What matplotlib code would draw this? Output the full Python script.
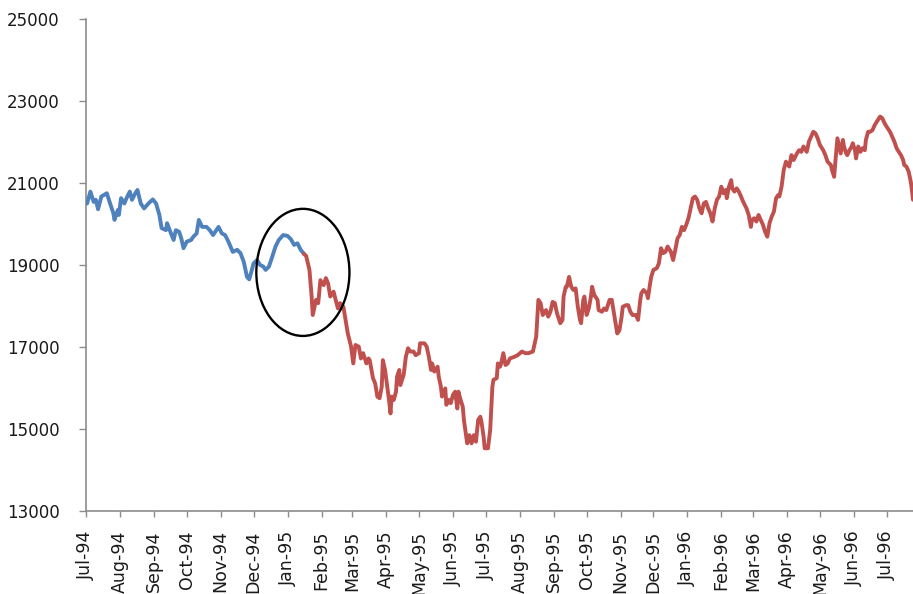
import matplotlib
matplotlib.use("Agg")
import matplotlib.pyplot as plt
import matplotlib.dates as mdates
from matplotlib.patches import Ellipse
import numpy as np
import pandas as pd

# ---- data (Nikkei-style index) ----
dates = [
    "1994-07-02", "1994-07-05", "1994-07-08", "1994-07-10", "1994-07-12", "1994-07-15", "1994-07-20", "1994-07-23",
    "1994-07-26", "1994-07-27", "1994-07-30", "1994-07-31", "1994-08-02", "1994-08-05", "1994-08-07", "1994-08-10",
    "1994-08-12", "1994-08-15", "1994-08-17", "1994-08-20", "1994-08-23", "1994-08-27", "1994-08-31", "1994-09-03",
    "1994-09-06", "1994-09-08", "1994-09-12", "1994-09-13", "1994-09-16", "1994-09-19", "1994-09-21", "1994-09-24",
    "1994-09-26", "1994-09-28", "1994-10-01", "1994-10-05", "1994-10-07", "1994-10-10", "1994-10-12", "1994-10-15",
    "1994-10-19", "1994-10-22", "1994-10-25", "1994-10-28", "1994-10-30", "1994-11-02", "1994-11-05", "1994-11-08",
    "1994-11-12", "1994-11-16", "1994-11-19", "1994-11-22", "1994-11-25", "1994-11-27", "1994-11-29", "1994-12-01",
    "1994-12-04", "1994-12-07", "1994-12-10", "1994-12-12", "1994-12-15", "1994-12-18", "1994-12-21", "1994-12-24",
    "1994-12-28", "1995-01-01", "1995-01-04", "1995-01-07", "1995-01-10", "1995-01-13", "1995-01-16",
    "1995-01-18", "1995-01-21", "1995-01-23", "1995-01-24", "1995-01-27", "1995-01-29", "1995-01-31", "1995-02-03",
    "1995-02-05", "1995-02-07", "1995-02-09", "1995-02-12", "1995-02-14", "1995-02-16", "1995-02-18", "1995-02-21",
    "1995-02-23", "1995-02-25", "1995-02-28", "1995-03-02", "1995-03-04", "1995-03-07", "1995-03-09", "1995-03-11",
    "1995-03-14", "1995-03-16", "1995-03-17", "1995-03-20", "1995-03-22", "1995-03-24", "1995-03-26", "1995-03-28",
    "1995-03-29", "1995-03-31", "1995-04-02", "1995-04-04", "1995-04-05", "1995-04-06", "1995-04-08", "1995-04-10",
    "1995-04-11", "1995-04-13", "1995-04-14", "1995-04-16", "1995-04-17", "1995-04-19", "1995-04-21", "1995-04-23",
    "1995-04-26", "1995-04-28", "1995-05-01", "1995-05-02", "1995-05-06", "1995-05-08", "1995-05-10", "1995-05-12",
    "1995-05-13", "1995-05-15", "1995-05-18", "1995-05-19", "1995-05-21", "1995-05-22", "1995-05-25", "1995-05-26",
    "1995-05-28", "1995-05-30", "1995-06-01", "1995-06-03", "1995-06-05", "1995-06-06", "1995-06-08", "1995-06-10",
    "1995-06-11", "1995-06-13", "1995-06-14", "1995-06-16", "1995-06-18", "1995-06-20", "1995-06-22", "1995-06-24",
    "1995-06-26", "1995-06-27", "1995-06-29", "1995-06-30", "1995-07-03", "1995-07-05", "1995-07-07", "1995-07-08",
    "1995-07-11", "1995-07-12", "1995-07-14", "1995-07-15", "1995-07-17", "1995-07-19", "1995-07-21", "1995-07-23",
    "1995-07-27", "1995-07-30", "1995-08-03", "1995-08-06", "1995-08-09", "1995-08-13", "1995-08-16", "1995-08-18",
    "1995-08-20", "1995-08-22", "1995-08-25", "1995-08-27", "1995-08-29", "1995-08-31", "1995-09-02", "1995-09-04",
    "1995-09-07", "1995-09-09", "1995-09-10", "1995-09-12", "1995-09-13", "1995-09-15", "1995-09-17", "1995-09-19",
    "1995-09-21", "1995-09-23", "1995-09-25", "1995-09-26", "1995-09-28", "1995-09-29", "1995-10-01", "1995-10-03",
    "1995-10-05", "1995-10-06", "1995-10-08", "1995-10-11", "1995-10-12", "1995-10-15", "1995-10-17", "1995-10-19",
    "1995-10-22", "1995-10-24", "1995-10-26", "1995-10-28", "1995-10-29", "1995-10-31", "1995-11-02", "1995-11-03",
    "1995-11-06", "1995-11-08", "1995-11-10", "1995-11-12", "1995-11-15", "1995-11-17", "1995-11-19", "1995-11-20",
    "1995-11-22", "1995-11-25", "1995-11-26", "1995-11-28", "1995-11-29", "1995-12-01", "1995-12-04", "1995-12-06",
    "1995-12-08", "1995-12-10", "1995-12-12", "1995-12-14", "1995-12-17", "1995-12-19", "1995-12-21", "1995-12-23",
    "1995-12-25", "1995-12-27", "1995-12-29", "1995-12-31", "1996-01-02", "1996-01-04", "1996-01-06", "1996-01-08",
    "1996-01-10", "1996-01-12", "1996-01-14", "1996-01-16", "1996-01-18", "1996-01-20", "1996-01-22", "1996-01-24",
    "1996-01-26", "1996-01-28", "1996-01-30", "1996-02-01", "1996-02-03", "1996-02-05", "1996-02-06", "1996-02-08",
    "1996-02-10", "1996-02-11", "1996-02-13", "1996-02-15", "1996-02-17", "1996-02-19", "1996-02-21", "1996-02-24",
    "1996-02-26", "1996-02-28", "1996-02-29", "1996-03-02", "1996-03-04", "1996-03-06", "1996-03-08", "1996-03-10",
    "1996-03-12", "1996-03-14", "1996-03-16", "1996-03-18", "1996-03-20", "1996-03-22", "1996-03-24", "1996-03-25",
    "1996-03-27", "1996-03-29", "1996-03-31", "1996-04-03", "1996-04-05", "1996-04-07", "1996-04-10", "1996-04-12",
    "1996-04-14", "1996-04-16", "1996-04-19", "1996-04-21", "1996-04-23", "1996-04-25", "1996-04-27", "1996-04-29",
    "1996-05-01", "1996-05-04", "1996-05-06", "1996-05-08", "1996-05-11", "1996-05-12", "1996-05-14", "1996-05-15",
    "1996-05-17", "1996-05-18", "1996-05-20", "1996-05-22", "1996-05-23", "1996-05-25", "1996-05-26", "1996-05-28",
    "1996-05-30", "1996-05-31", "1996-06-02", "1996-06-03", "1996-06-05", "1996-06-07", "1996-06-09", "1996-06-11",
    "1996-06-12", "1996-06-14", "1996-06-16", "1996-06-18", "1996-06-20", "1996-06-22", "1996-06-23", "1996-06-25",
    "1996-06-27", "1996-06-29", "1996-07-01", "1996-07-04", "1996-07-06", "1996-07-08", "1996-07-10", "1996-07-12",
    "1996-07-14", "1996-07-16", "1996-07-17", "1996-07-19", "1996-07-21", "1996-07-23", "1996-07-24", "1996-07-25",
]

values = [
    20500, 20790, 20540, 20590, 20360, 20670, 20750, 20500,
    20260, 20100, 20340, 20220, 20630, 20500, 20630, 20790,
    20590, 20750, 20830, 20500, 20380, 20500, 20600, 20500,
    20220, 19900, 19850, 20020, 19810, 19610, 19850, 19810,
    19650, 19410, 19570, 19610, 19690, 19770, 20100, 19930,
    19930, 19850, 19730, 19850, 19930, 19770, 19730, 19570,
    19320, 19370, 19290, 19080, 18710, 18650, 18840, 19040,
    19120, 19000, 18960, 18880, 18960, 19200, 19450, 19610,
    19730, 19710, 19630, 19490, 19530, 19370, 19270,
    19220, 18880, 18230, 17780, 18150, 18070, 18630, 18510,
    18680, 18550, 18230, 18350, 18150, 17940, 18070, 17980,
    17660, 17330, 17010, 16600, 17050, 17010, 16720, 16850,
    16600, 16720, 16680, 16240, 16110, 15790, 15750, 16030,
    16680, 16440, 16030, 15630, 15380, 15790, 15710, 15910,
    16280, 16440, 16070, 16240, 16320, 16760, 16970, 16890,
    16890, 16800, 16850, 17090, 17090, 17010, 16760, 16440,
    16600, 16400, 16520, 16280, 16030, 15790, 15990, 15590,
    15710, 15630, 15830, 15910, 15500, 15910, 15710, 15540,
    15220, 14850, 14650, 14850, 14650, 14850, 14690, 15220,
    15300, 15180, 14810, 14530, 14530, 14980, 16030, 16200,
    16240, 16600, 16520, 16600, 16850, 16560, 16600, 16720,
    16760, 16800, 16890, 16850, 16850, 16890, 17250, 18150,
    18070, 17780, 17900, 17740, 17860, 18100, 18070, 17820,
    17580, 17660, 18230, 18470, 18470, 18710, 18470, 18390,
    18430, 17980, 17660, 17580, 18150, 18230, 17780, 17940,
    18230, 18470, 18270, 18150, 17900, 17860, 17940, 17900,
    18150, 18150, 17820, 17500, 17330, 17410, 17740, 17980,
    18020, 18020, 17860, 17780, 17780, 17660, 18150, 18310,
    18390, 18310, 18190, 18550, 18710, 18880, 18920, 19040,
    19410, 19290, 19320, 19450, 19320, 19120, 19370, 19650,
    19730, 19930, 19850, 19980, 20140, 20380, 20630, 20670,
    20590, 20380, 20260, 20500, 20540, 20380, 20260, 20060,
    20380, 20590, 20670, 20910, 20750, 20830, 20630, 20910,
    21070, 20870, 20790, 20870, 20790, 20670, 20540, 20380,
    20220, 19930, 20100, 20140, 20060, 20220, 20100, 19980,
    19810, 19690, 20020, 20180, 20300, 20630, 20710, 20670,
    20910, 21320, 21520, 21400, 21680, 21560, 21720, 21800,
    21760, 21890, 21760, 22010, 22130, 22250, 22210, 22090,
    21930, 21800, 21680, 21520, 21440, 21320, 21150, 21480,
    22090, 21970, 21720, 22050, 21890, 21720, 21680, 21800,
    21890, 21970, 21800, 21600, 21890, 21760, 21850, 21800,
    22050, 22250, 22250, 22290, 22410, 22500, 22540, 22620,
    22580, 22460, 22370, 22250, 22130, 22010, 21850, 21760,
    21680, 21560, 21440, 21400, 21280, 21030, 20830, 20590,
]

split_date = "1995-01-16"          # last point drawn in blue (before the Kobe earthquake)
circle_center = ("1995-01-15", 18820)
circle_size_days = 85
circle_size_value = 3100

y_ticks = [13000, 15000, 17000, 19000, 21000, 23000, 25000]
x_start, x_end = "1994-07-01", "1996-07-25"

blue = "#4F81BD"
red = "#C0504D"
axis_grey = "#8C8C8C"

# ---- figure ----
fig = plt.figure(figsize=(9.13, 5.94), dpi=100)
ax = fig.add_axes([86 / 913, 83 / 594, 827 / 913, 492 / 594])

d = pd.to_datetime(dates)
v = np.array(values, dtype=float)
k = int(np.searchsorted(d.values, np.datetime64(split_date), side="right"))

ax.plot(d[:k], v[:k], color=blue, lw=2.8, solid_joinstyle="round", solid_capstyle="round", zorder=3)
ax.plot(d[k - 1:], v[k - 1:], color=red, lw=2.8, solid_joinstyle="round", solid_capstyle="round", zorder=3)

cx = mdates.date2num(pd.Timestamp(circle_center[0]))
ell = Ellipse((cx, circle_center[1]), width=circle_size_days, height=circle_size_value,
              fill=False, edgecolor="black", lw=1.7, zorder=4)
ax.add_patch(ell)

ax.set_xlim(pd.Timestamp(x_start), pd.Timestamp(x_end))
ax.set_ylim(y_ticks[0], y_ticks[-1])
ax.set_yticks(y_ticks)
ax.yaxis.set_major_formatter(matplotlib.ticker.FuncFormatter(lambda val, p: f"{int(val)}"))

ax.xaxis.set_major_locator(mdates.MonthLocator())
ax.xaxis.set_major_formatter(mdates.DateFormatter("%b-%y"))

for s in ["top", "right"]:
    ax.spines[s].set_visible(False)
for s in ["left", "bottom"]:
    ax.spines[s].set_color(axis_grey)
    ax.spines[s].set_linewidth(1.2)

ax.tick_params(axis="y", direction="out", length=5, width=1.0, color=axis_grey,
               labelsize=12, pad=14, labelcolor="#1a1a1a")
ax.tick_params(axis="x", direction="out", length=4, width=1.0, color=axis_grey,
               labelsize=12.5, pad=10, labelcolor="#1a1a1a", labelrotation=90)
for lab in ax.get_xticklabels():
    lab.set_ha("center")
    lab.set_va("top")

fig.savefig("out.png", dpi=100)
